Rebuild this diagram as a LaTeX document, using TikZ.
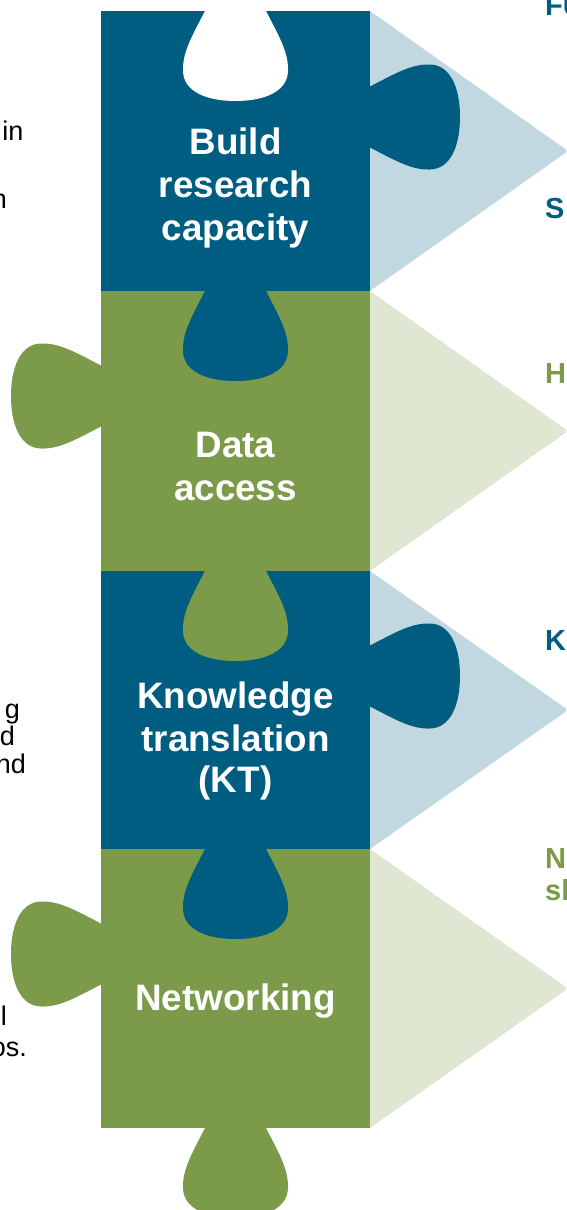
\documentclass[tikz,border=0pt]{standalone}
\usepackage{fontspec}
\setmainfont{Liberation Sans}
\definecolor{pblue}{HTML}{005D82}
\definecolor{pgreen}{HTML}{7B9B4A}
\definecolor{lblue}{HTML}{C1D8E0}
\definecolor{lgreen}{HTML}{DFE6D1}
\tikzset{
  knob/.pic={\fill[pic actions] (-1,-30.5) -- (0,-30.5) .. controls (28,-45) and (42,-53) .. (60,-52.5) .. controls (80,-52) and (90,-30) .. (90,0) .. controls (90,30) and (80,52) .. (60,52.5) .. controls (42,53) and (28,45) .. (0,30.5) -- (-1,30.5) -- cycle;},
  piecelabel/.style={text=white, font=\fontsize{36.8}{43}\selectfont\bfseries, inner sep=0pt, anchor=base},
  sidetext/.style={text=black, font=\fontsize{27}{28}\selectfont, inner sep=0pt, anchor=base east},
  headb/.style={text=pblue, font=\fontsize{29}{34}\selectfont\bfseries, inner sep=0pt, anchor=base west},
  headg/.style={text=pgreen, font=\fontsize{29}{34}\selectfont\bfseries, inner sep=0pt, anchor=base west},
}
\begin{document}
\begin{tikzpicture}[x=1pt, y=-1pt]
\useasboundingbox (0,0) rectangle (566,1210);
\begin{scope}
\clip (0,0) rectangle (566,1210);
% triangles
\fill[lblue] (370,11) -- (568,151) -- (370,291) -- cycle;
\fill[lgreen] (370,291) -- (568,431) -- (370,571) -- cycle;
\fill[lblue] (370,571) -- (568,710) -- (370,849) -- cycle;
\fill[lgreen] (370,849) -- (568,988.5) -- (370,1128) -- cycle;
% squares
\fill[pblue] (101,11) rectangle (370,291);
\fill[pgreen] (101,291) rectangle (370,571);
\fill[pblue] (101,571) rectangle (370,849);
\fill[pgreen] (101,849) rectangle (370,1128);
% knobs
\pic[fill=white, rotate=-90] (k0) at (235.5,11) {knob};
\pic[fill=pblue, rotate=-90] (k1b) at (235.5,291) {knob};
\pic[fill=pblue] (k1r) at (370,117) {knob};
\pic[fill=pgreen, rotate=180] (k2l) at (101,396) {knob};
\pic[fill=pgreen, rotate=-90] (k2b) at (235.5,571) {knob};
\pic[fill=pblue] (k3r) at (370,676) {knob};
\pic[fill=pblue, rotate=-90] (k3b) at (235.5,849) {knob};
\pic[fill=pgreen, rotate=180] (k4l) at (101,954) {knob};
\pic[fill=pgreen, rotate=-90] (k4b) at (235.5,1128) {knob};
% piece labels
\node[piecelabel] (l1a) at (235.5,154) {Build};
\node[piecelabel] (l1b) at (235.5,197) {research};
\node[piecelabel] (l1c) at (235.5,240) {capacity};
\node[piecelabel] (l2a) at (235.5,457) {Data};
\node[piecelabel] (l2b) at (235.5,500) {access};
\node[piecelabel] (l3a) at (235.5,708) {Knowledge};
\node[piecelabel] (l3b) at (235.5,751) {translation};
\node[piecelabel] (l3c) at (235.5,792) {(KT)};
\node[piecelabel] (l4a) at (235.5,1010) {Networking};
% left fragments
\node[sidetext] (s1) at (23.5,140) {in};
\node[sidetext] (s2) at (7,208) {n};
\node[sidetext] (s3) at (20,718) {g};
\node[sidetext] (s4) at (15,745) {d};
\node[sidetext] (s5) at (26,773) {nd};
\node[sidetext] (s6) at (7,1025) {l};
\node[sidetext] (s7) at (27,1056) {os.};
% right fragments
\node[headb] (h1) at (545,15) {FU};
\node[headb] (h2) at (545,218) {S};
\node[headg] (h3) at (545,383) {H};
\node[headb] (h4) at (545,650) {K};
\node[headg] (h5a) at (545,868) {N};
\node[headg] (h5b) at (545,900) {sl};
\end{scope}
\end{tikzpicture}
\end{document}
